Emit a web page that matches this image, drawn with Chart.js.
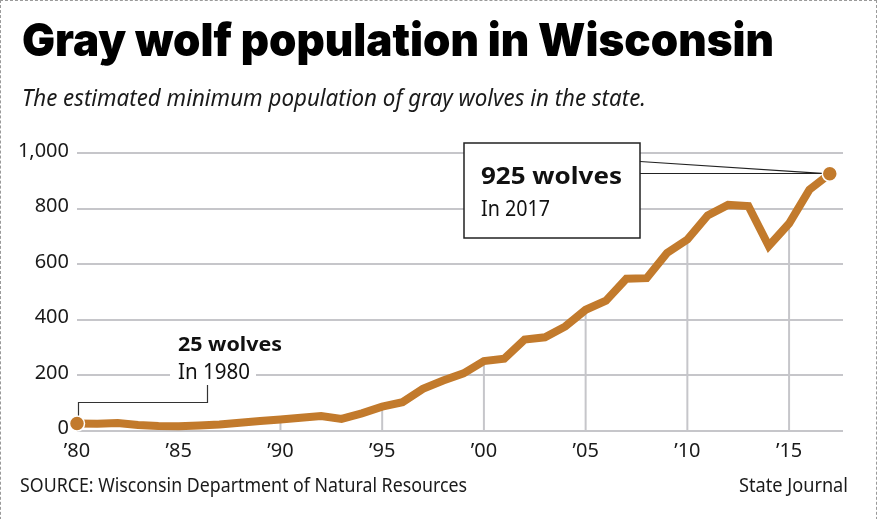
<!DOCTYPE html>
<html lang="en">
<head>
<meta charset="utf-8">
<title>Gray wolf population in Wisconsin</title>
<script src="https://cdn.jsdelivr.net/npm/chart.js@4.4.1/dist/chart.umd.min.js"></script>
<style>
  html, body { margin: 0; padding: 0; background: #fff; }
  body { width: 879px; height: 519px; position: relative; overflow: hidden; font-family: "Noto Sans", sans-serif; color: #1a1a1a; }
  .frame { position: absolute; left: 0; top: 0; width: 877px; height: 560px; border: 1px dashed #9a9a9a; box-sizing: border-box; }
  .txt { position: absolute; white-space: nowrap; line-height: 1; transform-origin: 0 0; }
  #title { left: 22px; top: 16px; font-family: Inter, Roboto, sans-serif; font-weight: 900; font-size: 46px; color: #000; }
  #subtitle { left: 22px; top: 85px; font-style: italic; font-size: 24px; }
  #source { left: 20px; top: 475px; font-size: 20px; }
  #credit { left: 739px; top: 475px; font-size: 20px; }
  canvas { position: absolute; left: 0; top: 0; }
</style>
</head>
<body>
<div class="frame"></div>
<canvas id="graph" width="879" height="519"></canvas>
<div class="txt" id="title">Gray wolf population in Wisconsin</div>
<div class="txt" id="subtitle">The estimated minimum population of gray wolves in the state.</div>
<div class="txt" id="source">SOURCE: Wisconsin Department of Natural Resources</div>
<div class="txt" id="credit">State Journal</div>
<script>
// data
const years = [
  1980, 1981, 1982, 1983, 1984, 1985, 1986, 1987, 1988, 1989,
  1990, 1991, 1992, 1993, 1994, 1995, 1996, 1997, 1998, 1999,
  2000, 2001, 2002, 2003, 2004, 2005, 2006, 2007, 2008, 2009,
  2010, 2011, 2012, 2013, 2014, 2015, 2016, 2017,
];
const wolves = [
  25, 24, 27, 20, 16, 15, 18, 22, 28, 34,
  40, 46, 52, 42, 62, 86, 102, 150, 180, 206,
  250, 259, 328, 336, 375, 435, 468, 547, 549, 640,
  688, 775, 813, 809, 665, 746, 868, 925,
];
const xTickYears = [1980, 1985, 1990, 1995, 2000, 2005, 2010, 2015];
const yTickValues = [0, 200, 400, 600, 800, 1000];

const lineColor = "#c27a2c";
const gridColor = "#c6c6ca";

// stretch the html texts to the widths of the original
const fitText = (id, width) => {
  const el = document.getElementById(id);
  const w = el.getBoundingClientRect().width;
  el.style.transform = `scaleX(${width / w})`;
};
fitText("title", 752);
fitText("subtitle", 624);
fitText("source", 447);
fitText("credit", 109);

// text squeezed or stretched to a given width
const drawText = (ctx, text, x, y, font, width) => {
  ctx.save();
  ctx.font = font;
  const w = ctx.measureText(text).width;
  ctx.translate(x, y);
  ctx.scale(width / w, 1);
  ctx.textBaseline = "alphabetic";
  ctx.textAlign = "left";
  ctx.fillStyle = "#111";
  ctx.fillText(text, 0, 0);
  ctx.restore();
};

// drop lines under the 5-year ticks
const dropLines = {
  id: "dropLines",
  beforeDatasetsDraw(chart) {
    const { ctx, scales } = chart;
    ctx.save();
    ctx.strokeStyle = gridColor;
    ctx.lineWidth = 2;
    xTickYears.slice(1).forEach((yr) => {
      const i = years.indexOf(yr);
      const x = scales.x.getPixelForValue(yr);
      ctx.beginPath();
      ctx.moveTo(x, scales.y.getPixelForValue(0));
      ctx.lineTo(x, scales.y.getPixelForValue(wolves[i]));
      ctx.stroke();
    });
    ctx.restore();
  },
};

// callouts for first and last years
const callouts = {
  id: "callouts",
  afterDatasetsDraw(chart) {
    const { ctx, scales } = chart;
    const last = years.length - 1;
    const x0 = scales.x.getPixelForValue(years[0]);
    const y0 = scales.y.getPixelForValue(wolves[0]);
    const x1 = scales.x.getPixelForValue(years[last]);
    const y1 = scales.y.getPixelForValue(wolves[last]);

    ctx.save();
    // 1980 label
    ctx.fillStyle = "#fff";
    ctx.fillRect(170, 362, 86, 24);
    ctx.strokeStyle = "#333";
    ctx.lineWidth = 1.2;
    ctx.beginPath();
    ctx.moveTo(x0 + 1.5, y0 - 8);
    ctx.lineTo(x0 + 1.5, 402.5);
    ctx.lineTo(207.5, 402.5);
    ctx.lineTo(207.5, 385);
    ctx.stroke();
    drawText(ctx, `${wolves[0]} wolves`, 178, 351, "bold 20px 'Noto Sans'", 104);
    drawText(ctx, `In ${years[0]}`, 178, 379, "21px 'Noto Sans'", 72);

    // 2017 box
    ctx.fillStyle = "#fff";
    ctx.fillRect(464, 143, 176, 95);
    ctx.strokeStyle = "#222";
    ctx.lineWidth = 1.5;
    ctx.strokeRect(464, 143, 176, 95);
    ctx.lineWidth = 1.2;
    ctx.beginPath();
    ctx.moveTo(640, 161.5);
    ctx.lineTo(x1 - 8, y1 - 0.5);
    ctx.moveTo(640, 173.5);
    ctx.lineTo(x1 - 8, y1 - 0.5);
    ctx.stroke();
    drawText(ctx, `${wolves[last]} wolves`, 481, 183.5, "bold 24px 'Noto Sans'", 141);
    drawText(ctx, `In ${years[last]}`, 481, 216, "21px 'Noto Sans'", 69);
    ctx.restore();
  },
};

const ctx = document.getElementById("graph").getContext("2d");
new Chart(ctx, {
  type: "line",
  data: {
    datasets: [
      {
        data: years.map((yr, i) => ({ x: yr, y: wolves[i] })),
        borderColor: lineColor,
        borderWidth: 8,
        borderJoinStyle: "miter",
        tension: 0,
        clip: false,
        pointRadius: (c) => (c.dataIndex === 0 || c.dataIndex === years.length - 1 ? 7.5 : 0),
        pointBackgroundColor: lineColor,
        pointBorderColor: "#fff",
        pointBorderWidth: 1.5,
      },
    ],
  },
  options: {
    responsive: false,
    animation: false,
    layout: { padding: { top: 153, right: 36, bottom: 58.5, left: 0 } },
    scales: {
      x: {
        type: "linear",
        min: 1980,
        max: 2017.65,
        afterBuildTicks(scale) {
          scale.ticks = xTickYears.map((v) => ({ value: v }));
        },
        afterFit(scale) {
          scale.height = 30;
        },
        grid: { display: false },
        border: { display: false },
        ticks: {
          padding: 1,
          color: "#1a1a1a",
          font: { family: "'Noto Sans'", size: 20 },
          maxRotation: 0,
          callback: (v) => "\u2019" + String(v).slice(2),
        },
      },
      y: {
        min: 0,
        max: 1000,
        afterBuildTicks(scale) {
          scale.ticks = yTickValues.map((v) => ({ value: v }));
        },
        afterFit(scale) {
          scale.width = 77;
        },
        grid: { color: gridColor, lineWidth: 2, drawTicks: false },
        border: { display: false },
        ticks: {
          padding: 8,
          labelOffset: -2,
          color: "#1a1a1a",
          font: { family: "'Noto Sans'", size: 20 },
          callback: (v) => v.toLocaleString("en-US"),
        },
      },
    },
    plugins: {
      legend: { display: false },
      tooltip: { enabled: false },
    },
  },
  plugins: [dropLines, callouts],
});
</script>
</body>
</html>
